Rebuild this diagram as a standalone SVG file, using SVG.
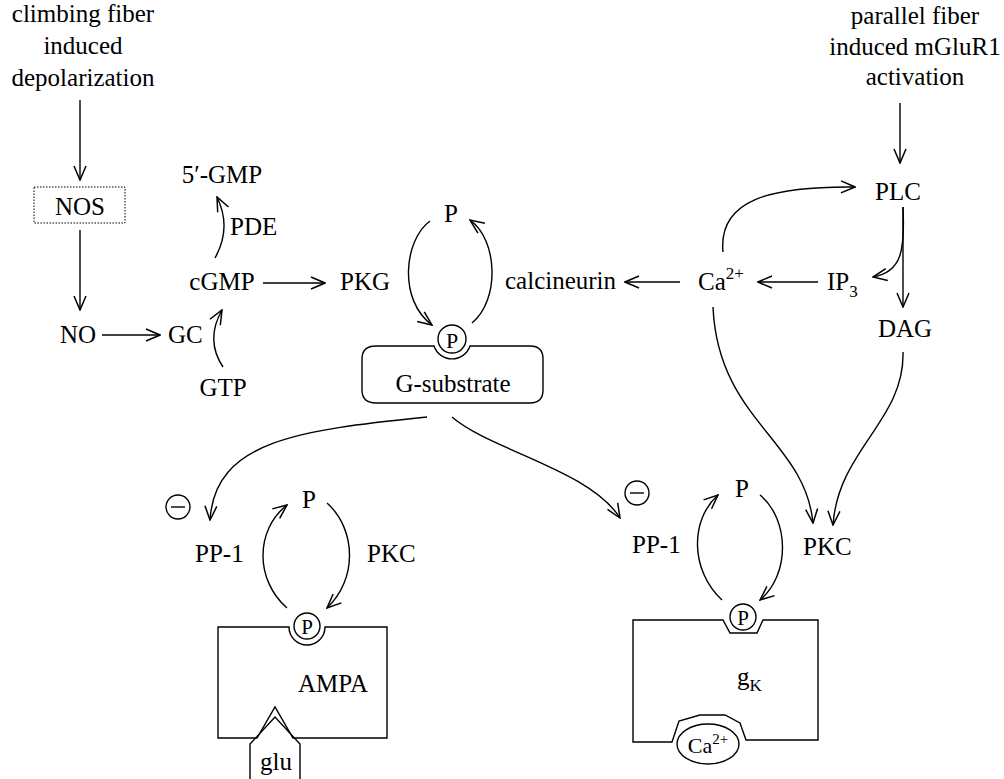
<svg xmlns="http://www.w3.org/2000/svg" width="1004" height="779" viewBox="0 0 1004 779">
<defs>
<style>
text{font-family:"Liberation Serif","Times New Roman",serif;font-size:25px;fill:#000}
.c{text-anchor:middle}
.ln{fill:none;stroke:#000;stroke-width:1.4}
.arr{fill:none;stroke:#000;stroke-width:1.4;marker-end:url(#ah)}
.sm{font-size:17px}
</style>
<marker id="ah" viewBox="0 0 16 14" refX="15" refY="7" markerWidth="16" markerHeight="14" orient="auto" markerUnits="userSpaceOnUse"><path d="M1,1 L15,7 L1,13" fill="none" stroke="#000" stroke-width="1.5"/></marker>
</defs>
<rect width="1004" height="779" fill="#fff"/>
<g id="connectors">
<path class="arr" d="M80 100 V180"/>
<path class="arr" d="M80 230 V310"/>
<path class="arr" d="M102 335 H160"/>
<path class="arr" d="M223 367 Q205 340 222 310"/>
<path class="arr" d="M215 258 Q232 228 217 197"/>
<path class="arr" d="M263 283 H325"/>
<path class="arr" d="M430 221 C404 240 398 300 432 325"/>
<path class="arr" d="M472 323 C500 300 498 240 470 220"/>
<path class="arr" d="M680 282 H625"/>
<path class="arr" d="M818 282 H758"/>
<path class="arr" d="M900 103 V163"/>
<path class="arr" d="M723 252 C718 200 770 186 855 187"/>
<path class="arr" d="M903 207 C905 250 902 272 873 277"/>
<path class="arr" d="M903 207 V307"/>
<path class="arr" d="M713 307 C718 420 805 440 813 523"/>
<path class="arr" d="M903 352 C905 420 838 450 833 525"/>
<path class="arr" d="M427 417 C300 430 215 440 210 520"/>
<path class="arr" d="M452 417 C490 450 590 470 620 518"/>
<path class="arr" d="M287 608 C255 580 255 530 287 505"/>
<path class="arr" d="M327 503 C357 530 357 580 327 608"/>
<path class="arr" d="M722 600 C690 570 690 520 718 495"/>
<path class="arr" d="M760 495 C790 520 790 575 760 600"/>
</g>
<g id="cf-input"><text class="c" x="83" y="22">climbing fiber</text><text class="c" x="83" y="54">induced</text><text class="c" x="83" y="86">depolarization</text></g>
<g id="pf-input"><text class="c" x="915" y="24">parallel fiber</text><text class="c" x="915" y="55">induced mGluR1</text><text class="c" x="915" y="85">activation</text></g>
<g id="nos"><rect x="34" y="187" width="91" height="36" fill="none" stroke="#000" stroke-width="1" stroke-dasharray="1.5 1.5"/><text class="c" x="80" y="215">NOS</text></g>
<g id="no"><text class="c" x="78" y="343">NO</text></g>
<g id="gc"><text x="168" y="343">GC</text></g>
<g id="gtp"><text class="c" x="223" y="396">GTP</text></g>
<g id="cgmp"><text class="c" x="222" y="290">cGMP</text></g>
<g id="gmp"><text class="c" x="222" y="183">5′-GMP</text></g>
<g id="pde"><text x="230" y="235">PDE</text></g>
<g id="pkg"><text x="340" y="290">PKG</text></g>
<g id="p-top"><text class="c" x="451" y="222">P</text></g>
<g id="calcineurin"><text x="505" y="289">calcineurin</text></g>
<g id="ca"><text x="698" y="290">Ca<tspan class="sm" dy="-11">2+</tspan></text></g>
<g id="ip3"><text x="827" y="290">IP<tspan class="sm" dy="7">3</tspan></text></g>
<g id="plc"><text class="c" x="898" y="200">PLC</text></g>
<g id="dag"><text class="c" x="905" y="337">DAG</text></g>
<g id="g-substrate">
<path class="ln" d="M376 346 L434 346 A19 19 0 0 0 470 346 L530 346 Q543 346 543 359 L543 390 Q543 403 530 403 L376 403 Q362 403 362 390 L362 359 Q362 346 376 346 Z"/>
<circle class="ln" cx="452" cy="339" r="14"/><text class="c" x="452" y="348" style="font-size:22px">P</text>
<text class="c" x="453" y="392">G-substrate</text>
</g>
<g id="inh-left"><circle class="ln" cx="178" cy="507" r="12"/><path class="ln" d="M171 507 H185"/></g>
<g id="pp1-left"><text x="195" y="562">PP-1</text></g>
<g id="p-left"><text class="c" x="309" y="508">P</text></g>
<g id="pkc-left"><text x="367" y="562">PKC</text></g>
<g id="ampa">
<path class="ln" d="M218 627 L289 627 A18 18 0 0 0 325 627 L387 627 L387 738 L293 738 L275 707 L257 738 L218 738 Z"/>
<circle class="ln" cx="307" cy="626" r="13"/><text class="c" x="307" y="634" style="font-size:21px">P</text>
<text x="298" y="692">AMPA</text>
</g>
<g id="glu"><path class="ln" d="M250 785 L250 744 L275 717 L300 744 L300 785"/><text class="c" x="276" y="770">glu</text></g>
<g id="inh-right"><circle class="ln" cx="637" cy="493" r="12"/><path class="ln" d="M630 493 H644"/></g>
<g id="pp1-right"><text x="632" y="553">PP-1</text></g>
<g id="p-right"><text class="c" x="742" y="497">P</text></g>
<g id="pkc-right"><text x="803" y="555">PKC</text></g>
<g id="gk">
<path class="ln" d="M633 620 L723 620 L730 633 L757 633 L763 620 L818 620 L818 740 L746 740 L740 723 L725 715 L700 715 L679 721 L672 742 L633 742 Z"/>
<circle class="ln" cx="743" cy="617" r="13"/><text class="c" x="743" y="625" style="font-size:21px">P</text>
<text x="737" y="685">g<tspan class="sm" dy="6">K</tspan></text>
</g>
<g id="ca-channel"><ellipse class="ln" cx="708" cy="744" rx="31" ry="20"/><text class="c" x="708" y="753" style="font-size:22px">Ca<tspan style="font-size:15px" dy="-9">2+</tspan></text></g>
</svg>
